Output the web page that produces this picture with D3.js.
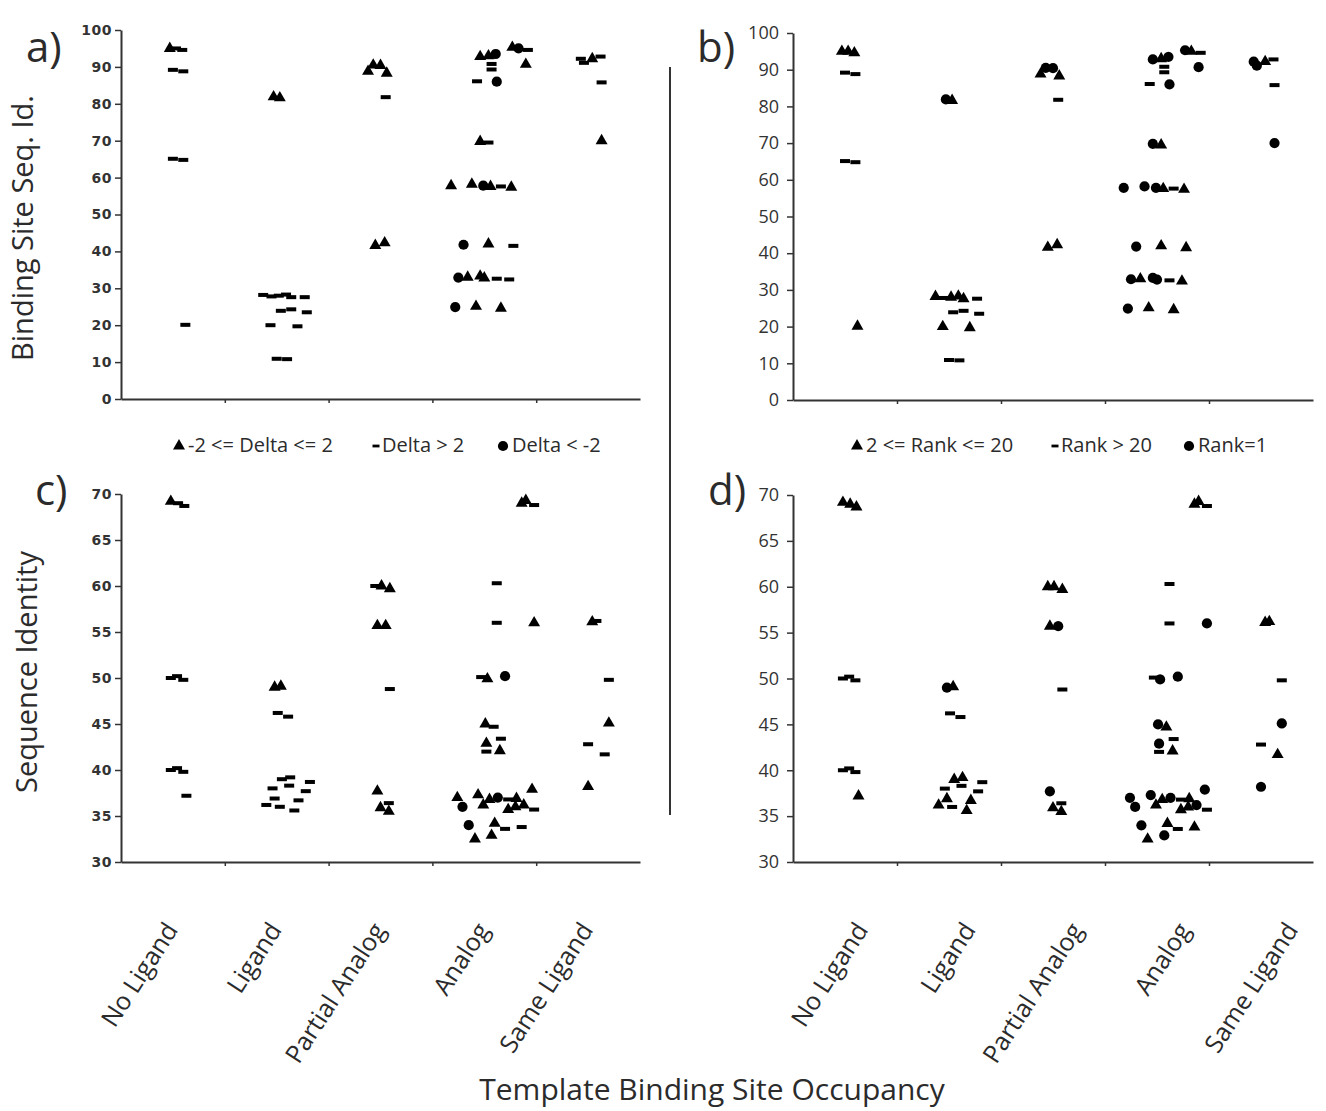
<!DOCTYPE html>
<html>
<head>
<meta charset="utf-8">
<script src="https://cdn.jsdelivr.net/npm/d3@7"></script>
<style>
  body { margin: 0; background: #fff; }
  text { font-family: "Open Sans", sans-serif; fill: #2b2b2b; }
</style>
</head>
<body>
<svg id="chart" width="1326" height="1111"></svg>
<script>
var categories = ["No Ligand", "Ligand", "Partial Analog", "Analog", "Same Ligand"];

// t = triangle, d = dash, c = circle
// panels a and b share the same templates (binding site seq. id.)
var topX = [0.47, 0.53, 0.59, 0.50, 0.60, 0.50, 0.60, 0.62,
  1.47, 1.53, 1.37, 1.45, 1.52, 1.59, 1.64, 1.77, 1.54, 1.64, 1.79, 1.44, 1.70, 1.50, 1.60,
  2.38, 2.43, 2.50, 2.56, 2.55, 2.45, 2.54,
  3.46, 3.54, 3.61, 3.57, 3.57, 3.43, 3.62, 3.77, 3.83, 3.92, 3.90, 3.46, 3.54,
  3.18, 3.38, 3.49, 3.56, 3.66, 3.76, 3.30, 3.54, 3.78,
  3.25, 3.34, 3.46, 3.50, 3.62, 3.74, 3.22, 3.42, 3.66,
  4.43, 4.46, 4.54, 4.62, 4.63, 4.63];
var topY = [95.0, 95.0, 94.6, 89.2, 88.8, 65.1, 64.8, 20.1,
  81.9, 81.6, 28.2, 27.8, 28.0, 28.3, 27.6, 27.6, 23.9, 24.3, 23.5, 20.0, 19.7, 10.9, 10.8,
  88.8, 90.5, 90.4, 88.3, 81.8, 41.6, 42.3,
  92.8, 93.0, 93.5, 90.8, 89.3, 86.1, 86.0, 95.3, 95.0, 94.6, 90.7, 69.8, 69.5,
  57.8, 58.2, 57.8, 57.6, 57.6, 57.4, 41.8, 42.0, 41.5,
  32.9, 33.0, 33.3, 32.8, 32.6, 32.4, 24.9, 25.1, 24.6,
  92.2, 91.1, 92.2, 92.8, 85.8, 70.0];
var topDelta = ["t", "d", "d", "d", "d", "d", "d", "d",
  "t", "t", "d", "d", "d", "d", "d", "d", "d", "d", "d", "d", "d", "d", "d",
  "t", "t", "t", "t", "d", "t", "t",
  "t", "t", "c", "d", "d", "d", "c", "t", "c", "d", "t", "t", "d",
  "t", "t", "c", "t", "d", "t", "c", "t", "d",
  "c", "t", "t", "t", "d", "d", "c", "t", "t",
  "d", "d", "t", "d", "d", "t"];
var topRank = ["t", "t", "t", "d", "d", "d", "d", "t",
  "c", "t", "t", "d", "t", "t", "t", "d", "d", "d", "d", "t", "t", "d", "d",
  "t", "c", "c", "t", "d", "t", "t",
  "c", "t", "c", "d", "d", "d", "c", "c", "t", "d", "c", "c", "t",
  "c", "c", "c", "t", "d", "t", "c", "t", "t",
  "c", "t", "c", "c", "d", "t", "c", "t", "t",
  "c", "c", "t", "d", "d", "c"];

// panels c and d share the same templates (sequence identity)
var botX = [0.48, 0.55, 0.61, 0.48, 0.54, 0.60, 0.48, 0.54, 0.60, 0.63,
  1.48, 1.54, 1.51, 1.61, 1.40, 1.48, 1.55, 1.63, 1.46, 1.62, 1.82, 1.78, 1.71, 1.53, 1.67,
  2.45, 2.51, 2.59, 2.47, 2.55, 2.59, 2.47, 2.50, 2.58, 2.58,
  3.86, 3.90, 3.98, 3.62, 3.62, 3.98, 3.47, 3.53, 3.70, 3.51, 3.59, 3.52, 3.66, 3.52, 3.65,
  3.96, 3.24, 3.29, 3.44, 3.49, 3.55, 3.63, 3.73, 3.81, 3.73, 3.80, 3.88, 3.98,
  3.35, 3.60, 3.70, 3.86, 3.41, 3.57,
  4.54, 4.58, 4.70, 4.70, 4.50, 4.66, 4.50];
var botY = [69.2, 69.0, 68.7, 50.0, 50.2, 49.8, 40.0, 40.2, 39.8, 37.2,
  49.0, 49.1, 46.2, 45.8, 36.2, 36.9, 39.0, 39.2, 38.0, 38.3, 38.7, 37.7, 36.7, 36.0, 35.6,
  60.0, 60.0, 59.7, 55.7, 55.7, 48.8, 37.7, 35.9, 36.4, 35.5,
  69.0, 69.3, 68.8, 60.3, 56.0, 56.0, 50.1, 49.9, 50.2, 45.0, 44.7, 42.9, 43.4, 42.0, 42.1,
  37.9, 37.0, 36.0, 37.3, 36.2, 36.8, 37.0, 36.8, 36.9, 35.7, 36.0, 36.2, 35.7,
  34.0, 34.2, 33.6, 33.8, 32.5, 32.9,
  56.1, 56.2, 49.8, 45.1, 42.8, 41.7, 38.2];
var botDelta = ["t", "d", "d", "d", "d", "d", "d", "d", "d", "d",
  "t", "t", "d", "d", "d", "d", "d", "d", "d", "d", "d", "d", "d", "d", "d",
  "d", "t", "t", "t", "t", "d", "t", "t", "d", "t",
  "t", "t", "d", "d", "d", "t", "d", "t", "c", "t", "d", "t", "d", "d", "t",
  "t", "t", "c", "t", "t", "t", "c", "d", "t", "t", "t", "t", "d",
  "c", "t", "d", "d", "t", "t",
  "t", "d", "d", "t", "d", "d", "t"];
var botRank = ["t", "t", "t", "d", "d", "d", "d", "d", "d", "t",
  "c", "t", "d", "d", "t", "t", "t", "t", "d", "d", "d", "d", "t", "d", "t",
  "t", "t", "t", "t", "c", "d", "c", "t", "d", "t",
  "t", "t", "d", "d", "d", "c", "d", "c", "c", "c", "t", "c", "d", "d", "t",
  "c", "c", "c", "c", "t", "t", "c", "d", "t", "t", "t", "c", "d",
  "c", "t", "d", "t", "t", "c",
  "t", "t", "d", "c", "d", "t", "c"];

var topTicks = [0, 10, 20, 30, 40, 50, 60, 70, 80, 90, 100];
var botTicks = [30, 35, 40, 45, 50, 55, 60, 65, 70];

var deltaLegend = ["-2 <= Delta <= 2", "Delta > 2", "Delta < -2"];
var rankLegend = ["2 <= Rank <= 20", "Rank > 20", "Rank=1"];
var legendTypes = ["t", "d", "c"];

var svg = d3.select("#chart");

var panels = [
  {letter: "a)", lx: 26, ly: 62, x0: 121, x1: 640, yTop: 30, yBot: 399, domain: [0, 100], ticks: topTicks,
   xs: topX, ys: topY, marks: topDelta, small: true},
  {letter: "b)", lx: 697, ly: 62, x0: 793, x1: 1313, yTop: 33, yBot: 400, domain: [0, 100], ticks: topTicks,
   xs: topX, ys: topY, marks: topRank, small: false},
  {letter: "c)", lx: 35, ly: 505, x0: 121, x1: 640, yTop: 494, yBot: 862, domain: [30, 70], ticks: botTicks,
   xs: botX, ys: botY, marks: botDelta, small: true, labels: true, labelShift: 6, labelStep: 0},
  {letter: "d)", lx: 708, ly: 505, x0: 793, x1: 1313, yTop: 495, yBot: 862, domain: [30, 70], ticks: botTicks,
   xs: botX, ys: botY, marks: botRank, small: false, labels: true, labelShift: 24, labelStep: 3.5}
];

var triangle = d3.symbol().type(d3.symbolTriangle).size(62);
var circle = d3.symbol().type(d3.symbolCircle).size(82);

function drawMark(g, type, cx, cy, scale) {
  scale = scale || 1;
  if (type === "d") {
    g.append("rect")
      .attr("x", cx - 5 * scale).attr("y", cy - 2 * scale)
      .attr("width", 10 * scale).attr("height", 4 * scale)
      .attr("fill", "#000");
  } else {
    g.append("path")
      .attr("d", type === "t" ? triangle() : circle())
      .attr("transform", "translate(" + cx + "," + cy + ") scale(" + scale + ")")
      .attr("fill", "#000");
  }
}

panels.forEach(function(p) {
  var x = d3.scaleLinear().domain([0, 5]).range([p.x0, p.x1]);
  var y = d3.scaleLinear().domain(p.domain).range([p.yBot, p.yTop]);
  var g = svg.append("g");

  var yAxis = d3.axisLeft(y).tickValues(p.ticks).tickSize(6).tickSizeOuter(0)
    .tickPadding(p.small ? 3 : 8);
  var ya = g.append("g").attr("transform", "translate(" + p.x0 + ",0)").call(yAxis);
  ya.selectAll("text")
    .style("font-family", p.small ? "DejaVu Sans" : "Open Sans")
    .style("font-weight", p.small ? "bold" : "normal")
    .style("font-size", p.small ? "14px" : "18px")
    .style("letter-spacing", p.small ? "0.5px" : "0")
    .style("fill", "#333");

  var xAxis = d3.axisBottom(x).tickValues([1, 2, 3, 4]).tickSize(4).tickSizeOuter(0).tickFormat("");
  g.append("g").attr("transform", "translate(0," + p.yBot + ")").call(xAxis);

  g.selectAll(".domain").attr("stroke", "#333").attr("stroke-width", 2);
  g.selectAll(".tick line").attr("stroke", "#333").attr("stroke-width", 1.5);

  // panel letter
  g.append("text").attr("x", p.lx).attr("y", p.ly)
    .style("font-size", "42px").text(p.letter);

  // points
  var pts = g.append("g");
  p.xs.forEach(function(v, i) {
    drawMark(pts, p.marks[i], x(v), y(p.ys[i]));
  });

  if (p.labels) {
    categories.forEach(function(c, i) {
      var lx = x(i + 0.5) + p.labelShift + p.labelStep * i, ly = 930;
      g.append("text")
        .attr("transform", "translate(" + lx + "," + ly + ") rotate(-57)")
        .attr("text-anchor", "end")
        .style("font-size", "25px")
        .text(c);
    });
  }
});

// legends
function drawLegend(items, xs) {
  var g = svg.append("g");
  items.forEach(function(label, i) {
    var t = legendTypes[i];
    drawMark(g, t, xs[i], 446, t === "d" ? 0.7 : 1);
    g.append("text").attr("x", xs[i] + (t === "d" ? 6 : 9)).attr("y", 452)
      .style("font-size", "20px").text(label);
  });
}
drawLegend(deltaLegend, [179, 376, 503]);
drawLegend(rankLegend, [857, 1055, 1189]);

// separator between the left and right panels
svg.append("line").attr("x1", 670).attr("x2", 670).attr("y1", 67).attr("y2", 815)
  .attr("stroke", "#333").attr("stroke-width", 2);

// axis titles
svg.append("text")
  .attr("transform", "translate(33,228) rotate(-90)")
  .attr("text-anchor", "middle")
  .style("font-size", "29px")
  .text("Binding Site Seq. Id.");

svg.append("text")
  .attr("transform", "translate(37,672) rotate(-90)")
  .attr("text-anchor", "middle")
  .style("font-size", "29px")
  .text("Sequence Identity");

svg.append("text")
  .attr("x", 712).attr("y", 1100)
  .attr("text-anchor", "middle")
  .style("font-size", "30px")
  .text("Template Binding Site Occupancy");
</script>
</body>
</html>
